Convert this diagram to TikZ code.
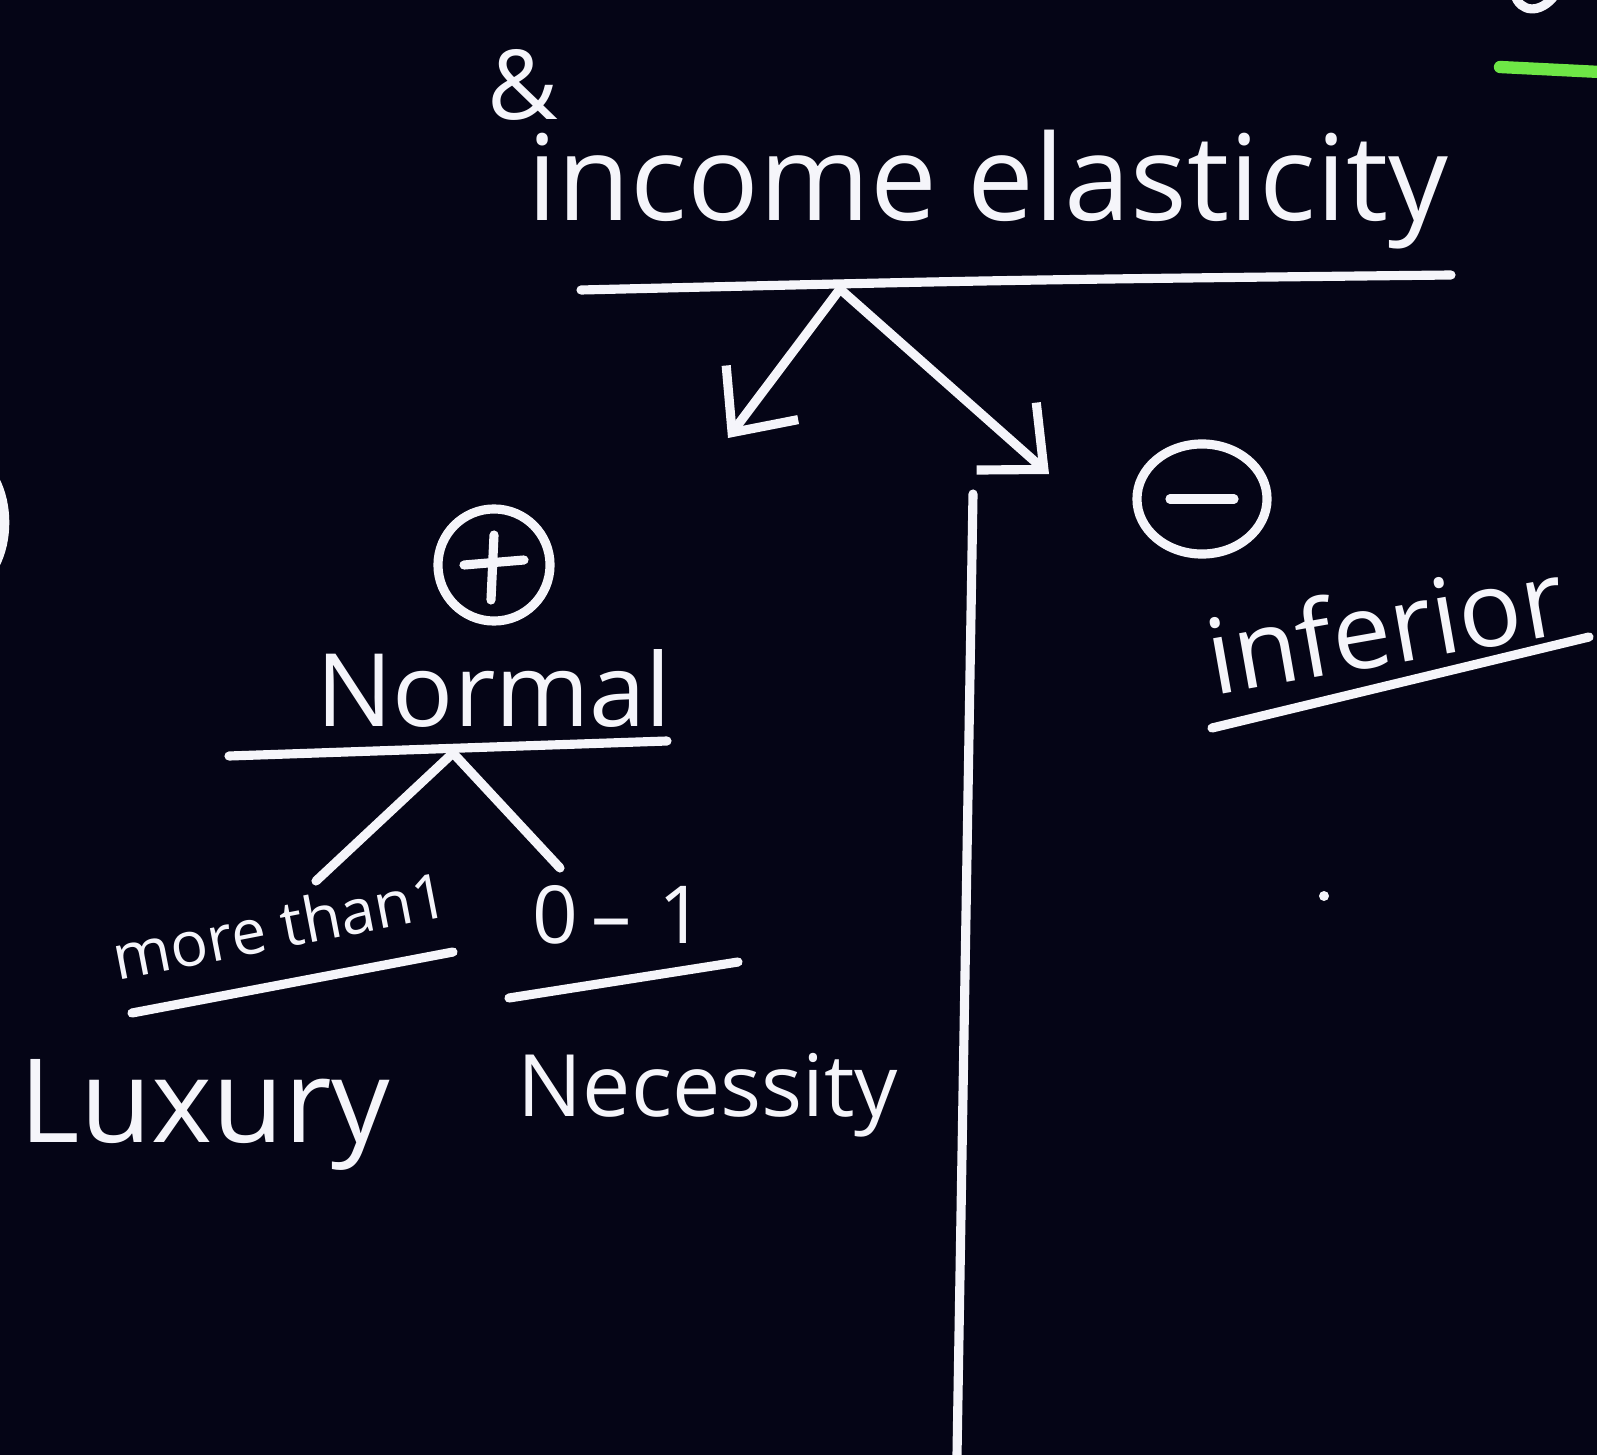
\documentclass[tikz,border=0pt]{standalone}
\usepackage{fontspec}
\setmainfont{Open Sans}
\usetikzlibrary{arrows.meta,shapes.geometric}
\definecolor{board}{RGB}{5,5,22}
\definecolor{chalk}{RGB}{245,245,250}
\definecolor{greenchalk}{RGB}{110,230,70}
\tikzset{
  chalkline/.style={draw=chalk,line width=2.6pt,line cap=round,line join=round},
  chalktext/.style={text=chalk,inner sep=0pt,anchor=center},
  barb/.style={chalkline,-{Straight Barb[length=5mm,width=9mm,line width=2.6pt]}}
}
\begin{document}
\begin{tikzpicture}[x=0.01cm,y=-0.01cm]
\fill[board] (0,0) rectangle (1597,1455);
\useasboundingbox (0,0) rectangle (1597,1455);
% texts
\node[chalktext] (amp) at (523,85) {\resizebox{!}{0.7cm}{\&}};
\node[chalktext] (title) at (988,190) {\resizebox{9.2cm}{!}{income elasticity}};
\node[chalktext] (normal) at (494,688) {\resizebox{3.55cm}{!}{Normal}};
\node[chalktext,rotate=11] (more) at (280,925) {\resizebox{3.4cm}{!}{more than1}};
\node[chalktext] (zeroone) at (618,915) {\resizebox{!}{0.58cm}{0\,–\,\,1}};
\node[chalktext] (luxury) at (205,1115) {\resizebox{3.7cm}{!}{Luxury}};
\node[chalktext] (necessity) at (708,1095) {\resizebox{3.8cm}{!}{Necessity}};
\node[chalktext,rotate=10] (inferior) at (1385,625) {\resizebox{3.6cm}{!}{inferior}};
% underlines
\coordinate (tl) at (581,290); \coordinate (tr) at (1451,275);
\draw[chalkline] (tl) .. controls (1000,280) .. (tr);
\coordinate (apex) at (840,289);
\coordinate (nl) at (229,756); \coordinate (nr) at (667,741);
\draw[chalkline] (nl) -- (nr);
\coordinate (napex) at (453,753);
\draw[chalkline] (132,1013) coordinate (ml) -- (453,952) coordinate (mr);
\draw[chalkline] (509,998) coordinate (zl) -- (738,962) coordinate (zr);
\draw[chalkline] (1212,728) coordinate (il) -- (1589,637) coordinate (ir);
% circles
\node[draw=chalk,line width=2.6pt,circle,minimum size=1.12cm,inner sep=0pt] (plus) at (494,565) {};
\draw[chalkline] ([xshift=-0.3cm]plus.center) -- ([xshift=0.3cm,yshift=0.05cm]plus.center);
\draw[chalkline] ([yshift=0.3cm]plus.center) -- ([yshift=-0.35cm,xshift=-0.03cm]plus.center);
\node[draw=chalk,line width=2.6pt,ellipse,minimum width=1.3cm,minimum height=1.1cm,inner sep=0pt] (minus) at (1202,499) {};
\draw[chalkline] ([xshift=-0.32cm]minus.center) -- ([xshift=0.32cm]minus.center);
% arrows from title
\coordinate (lend) at (728,438);
\coordinate (rend) at (1049,474);
\draw[barb] (apex) -- (lend);
\draw[barb] (apex) -- (rend);
% branches of normal
\coordinate (bl) at (316,881);
\coordinate (br) at (560,868);
\draw[chalkline] (napex) -- (bl);
\draw[chalkline] (napex) -- (br);
% vertical divider
\coordinate (vtop) at (973,494);
\coordinate (vbot) at (957,1455);
\draw[chalkline] (vtop) -- (vbot);
% dot
\fill[chalk] (1324,896) circle (0.05cm);
% edge fragments
\draw[chalkline] (-5,480) .. controls (8,505) and (8,540) .. (-5,565);
\draw[chalkline] (1515,-5) .. controls (1520,12) and (1540,15) .. (1555,-5);
\draw[draw=greenchalk,line width=3.5pt,line cap=round] (1500,67) -- (1600,72);
\end{tikzpicture}
\end{document}
